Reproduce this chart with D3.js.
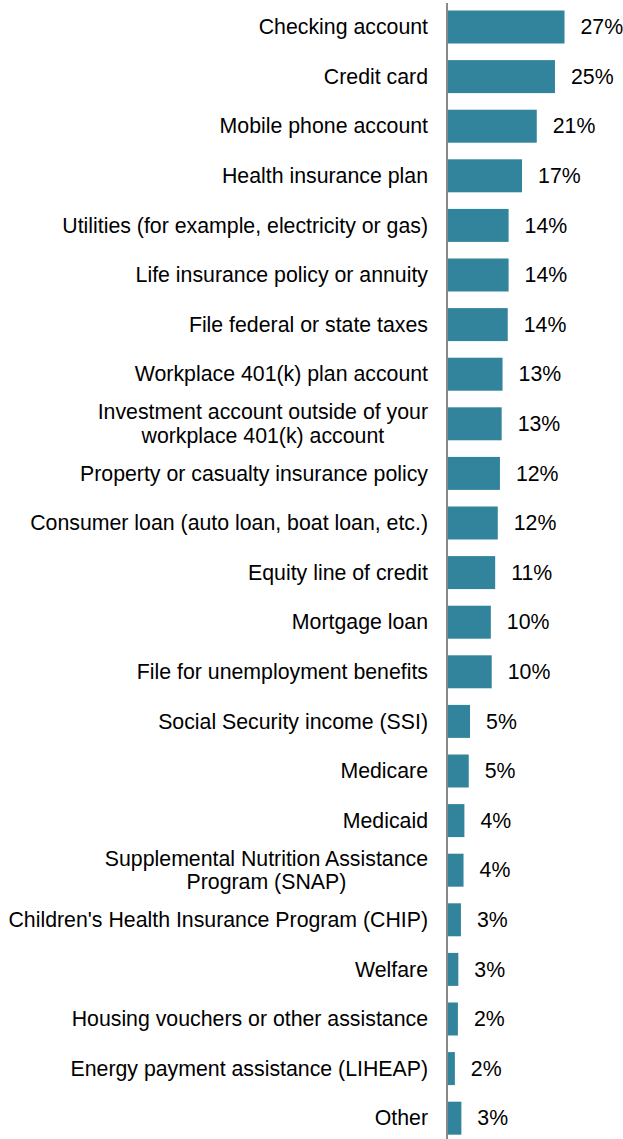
<!DOCTYPE html>
<html>
<head>
<meta charset="utf-8">
<script src="https://cdn.jsdelivr.net/npm/d3@7/dist/d3.min.js"></script>
<style>
  html, body { margin: 0; padding: 0; background: #fff; }
  svg { display: block; }
  text { font-family: "Liberation Sans", Arial, sans-serif; fill: #000; }
</style>
</head>
<body>
<div id="chart"></div>
<script>
// Categories, top to bottom ("\n" marks a line break in the label)
const categories = [
  "Checking account",
  "Credit card",
  "Mobile phone account",
  "Health insurance plan",
  "Utilities (for example, electricity or gas)",
  "Life insurance policy or annuity",
  "File federal or state taxes",
  "Workplace 401(k) plan account",
  "Investment account outside of your\nworkplace 401(k) account",
  "Property or casualty insurance policy",
  "Consumer loan (auto loan, boat loan, etc.)",
  "Equity line of credit",
  "Mortgage loan",
  "File for unemployment benefits",
  "Social Security income (SSI)",
  "Medicare",
  "Medicaid",
  "Supplemental Nutrition Assistance\nProgram (SNAP)",
  "Children's Health Insurance Program (CHIP)",
  "Welfare",
  "Housing vouchers or other assistance",
  "Energy payment assistance (LIHEAP)",
  "Other"
];

// Share of respondents, in percent
const values = [
  27.0, 24.8, 20.6, 17.2, 14.1, 14.1, 13.9, 12.7, 12.5, 12.1, 11.6, 11.0,
  10.0, 10.2, 5.2, 4.9, 3.9, 3.7, 3.1, 2.5, 2.4, 1.7, 3.2
];

const data = categories.map((c, i) => ({ category: c, value: values[i] }));

const width = 623, height = 1139;
const axisX = 447.5;
const fontSize = 21.3;

const svg = d3.select("#chart").append("svg")
  .attr("width", width)
  .attr("height", height);

const x = d3.scaleLinear()
  .domain([0, 30])
  .range([axisX, axisX + 130]);

const y = d3.scaleBand()
  .domain(categories)
  .range([0.6, 1144.6])
  .paddingInner(0.335)
  .paddingOuter(0.2);

// Bars
svg.append("g")
  .selectAll("rect")
  .data(data)
  .join("rect")
  .attr("x", x(0))
  .attr("y", d => y(d.category))
  .attr("width", d => x(d.value) - x(0))
  .attr("height", y.bandwidth())
  .attr("fill", "#31849b");

// Vertical axis line
svg.append("line")
  .attr("x1", axisX - 0.5).attr("x2", axisX - 0.5)
  .attr("y1", 3).attr("y2", height)
  .attr("stroke", "#898989")
  .attr("stroke-width", 2);

// Value labels
svg.append("g")
  .selectAll("text")
  .data(data)
  .join("text")
  .attr("x", d => x(d.value) + 16)
  .attr("y", d => y(d.category) + y.bandwidth() / 2)
  .attr("dy", "0.34em")
  .attr("font-size", fontSize)
  .text(d => Math.round(d.value) + "%");

// Category labels, right edge 19px left of the axis; wrapped lines centred in their block
const labelRight = axisX - 19.5;
const lineGap = 23.5;
const labels = svg.append("g")
  .selectAll("text")
  .data(data)
  .join("text")
  .attr("font-size", fontSize);

labels.each(function(d) {
  const t = d3.select(this);
  const lines = d.category.split("\n");
  const cy = y(d.category) + y.bandwidth() / 2;
  if (lines.length === 1) {
    t.attr("text-anchor", "end")
      .attr("x", labelRight)
      .attr("y", cy)
      .attr("dy", "0.34em")
      .text(lines[0]);
  } else {
    const spans = lines.map((ln, i) => t.append("tspan")
      .attr("y", cy + (i - (lines.length - 1) / 2) * lineGap)
      .attr("dy", "0.34em")
      .text(ln));
    const maxW = d3.max(spans, s => s.node().getComputedTextLength());
    t.attr("text-anchor", "middle");
    spans.forEach(s => s.attr("x", labelRight - maxW / 2));
  }
});
</script>
</body>
</html>
